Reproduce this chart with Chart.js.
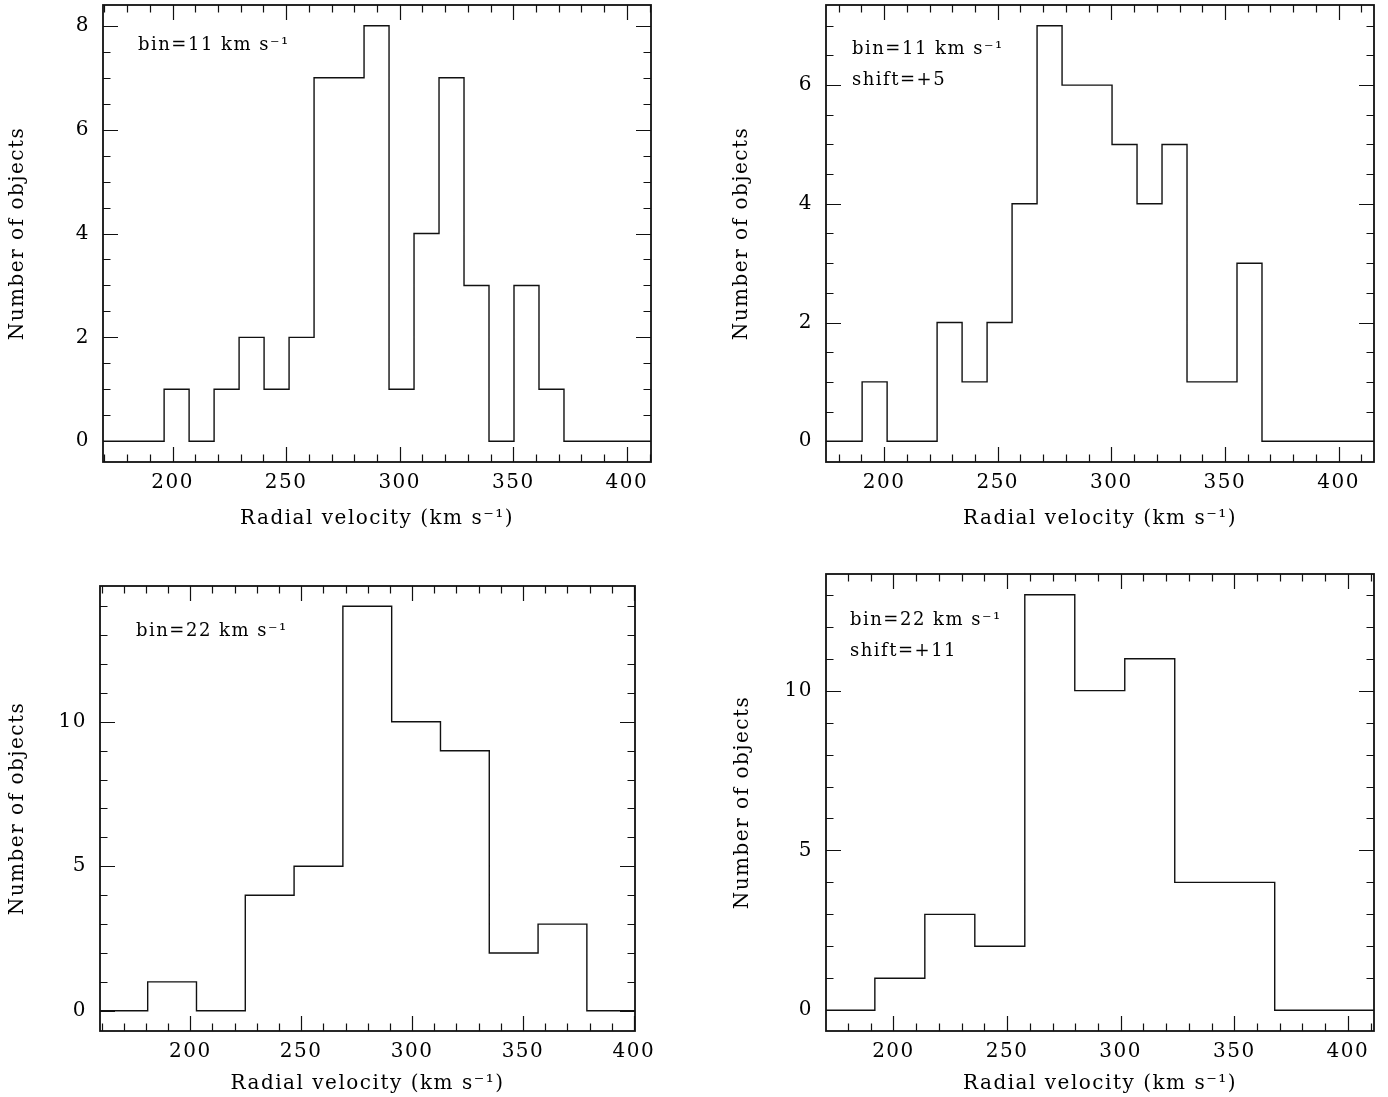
<!DOCTYPE html>
<html><head><meta charset="utf-8">
<script src="https://cdn.jsdelivr.net/npm/chart.js@4/dist/chart.umd.min.js"></script>
<style>
html,body{margin:0;padding:0;background:#fff;}
body{width:1388px;height:1097px;position:relative;overflow:hidden;}
canvas{position:absolute;display:block;}
</style></head><body>
<canvas id="c1" width="694" height="548" style="left:0;top:0"></canvas>
<canvas id="c2" width="694" height="548" style="left:694px;top:0"></canvas>
<canvas id="c3" width="694" height="549" style="left:0;top:548px"></canvas>
<canvas id="c4" width="694" height="549" style="left:694px;top:548px"></canvas>
<script>
// ---- data ----
const xTickValues = [200, 250, 300, 350, 400];
const xMinorStep = 10;
const xTitle = 'Radial velocity (km s⁻¹)';
const yTitle = 'Number of objects';

// Panel 1: bin = 11 km/s
const p1Edges  = [196.3, 207.3, 218.3, 229.3, 240.3, 251.3, 262.3, 273.3, 284.3, 295.3, 306.3, 317.3, 328.3, 339.3, 350.3, 361.3, 372.3];
const p1Counts = [1, 0, 1, 2, 1, 2, 7, 7, 8, 1, 4, 7, 3, 0, 3, 1];
const p1XRange = [169.4, 410.6];
const p1YRange = [-0.4, 8.4];
const p1YTicks = [0, 2, 4, 6, 8];
const p1YMinor = 0.5;
const p1Notes  = ['bin=11 km s⁻¹'];

// Panel 2: bin = 11 km/s, shift +5
const p2Edges  = [190.3, 201.3, 212.3, 223.3, 234.3, 245.3, 256.3, 267.3, 278.3, 289.3, 300.3, 311.3, 322.3, 333.3, 344.3, 355.3, 366.3];
const p2Counts = [1, 0, 0, 2, 1, 2, 4, 7, 6, 6, 5, 4, 5, 1, 1, 3];
const p2XRange = [174.4, 415.6];
const p2YRange = [-0.35, 7.35];
const p2YTicks = [0, 2, 4, 6];
const p2YMinor = 0.5;
const p2Notes  = ['bin=11 km s⁻¹', 'shift=+5'];

// Panel 3: bin = 22 km/s
const p3Edges  = [180.8, 202.8, 224.8, 246.8, 268.8, 290.8, 312.8, 334.8, 356.8, 378.8];
const p3Counts = [1, 0, 4, 5, 14, 10, 9, 2, 3];
const p3XRange = [159.3, 400.5];
const p3YRange = [-0.7, 14.7];
const p3YTicks = [0, 5, 10];
const p3YMinor = 1;
const p3Notes  = ['bin=22 km s⁻¹'];

// Panel 4: bin = 22 km/s, shift +11
const p4Edges  = [191.8, 213.8, 235.8, 257.8, 279.8, 301.8, 323.8, 345.8, 367.8];
const p4Counts = [1, 3, 2, 13, 10, 11, 4, 4];
const p4XRange = [170.3, 411.5];
const p4YRange = [-0.65, 13.65];
const p4YTicks = [0, 5, 10];
const p4YMinor = 1;
const p4Notes  = ['bin=22 km s⁻¹', 'shift=+11'];

// ---- drawing ----
const FONT = 'DejaVu Serif';
const INK = '#111';

const framePlugin = {
  id: 'frame',
  beforeDraw(chart) { chart.ctx.letterSpacing = '1.5px'; },
  afterDraw(chart, args, o) {
    const {ctx, chartArea: a} = chart;
    const x = chart.scales.x, y = chart.scales.y;
    ctx.save();
    ctx.strokeStyle = INK;
    ctx.lineWidth = 1.2;
    ctx.beginPath();
    const eps = 1e-6;
    for (let v = Math.ceil(x.min / xMinorStep) * xMinorStep; v <= x.max + eps; v += xMinorStep) {
      const px = Math.round(x.getPixelForValue(v)) + 0.5;
      const major = xTickValues.some(t => Math.abs(t - v) < eps);
      const len = major ? 15 : 7.5;
      ctx.moveTo(px, a.bottom); ctx.lineTo(px, a.bottom - len);
      ctx.moveTo(px, a.top); ctx.lineTo(px, a.top + len);
    }
    const st = o.yMinor;
    for (let k = Math.ceil(y.min / st - eps); k * st <= y.max + eps; k++) {
      const v = k * st;
      const py = Math.round(y.getPixelForValue(v)) + 0.5;
      const major = o.yTicks.some(t => Math.abs(t - v) < eps);
      const len = major ? 15 : 7.5;
      ctx.moveTo(a.left, py); ctx.lineTo(a.left + len, py);
      ctx.moveTo(a.right, py); ctx.lineTo(a.right - len, py);
    }
    ctx.stroke();
    ctx.lineWidth = 1.8;
    ctx.strokeRect(a.left, a.top, a.right - a.left, a.bottom - a.top);
    ctx.fillStyle = '#000';
    ctx.font = '18px "' + FONT + '"';
    ctx.textBaseline = 'middle';
    ctx.textAlign = 'left';
    o.notes.forEach((t, i) => ctx.fillText(t, a.left + o.noteX, a.top + o.noteY + i * 31));
    ctx.restore();
  }
};

function histPoints(edges, counts, xr) {
  const pts = [{x: xr[0], y: 0}];
  counts.forEach((c, i) => pts.push({x: edges[i], y: c}));
  pts.push({x: edges[edges.length - 1], y: 0});
  pts.push({x: xr[1], y: 0});
  return pts;
}

function makePanel(id, edges, counts, xr, yr, yTicks, yMinor, notes, L) {
  const cv = document.getElementById(id);
  const W = cv.width, H = cv.height;
  new Chart(cv, {
    type: 'line',
    data: { datasets: [{
      data: histPoints(edges, counts, xr),
      stepped: 'before', borderColor: INK, borderWidth: 1.4,
      pointRadius: 0, fill: false, tension: 0
    }]},
    options: {
      responsive: false, animation: false, devicePixelRatio: 1,
      layout: { padding: { top: L.top, right: W - L.right, bottom: 0, left: 0 } },
      plugins: {
        legend: { display: false }, tooltip: { enabled: false },
        frame: { yTicks: yTicks, yMinor: yMinor, notes: notes, noteX: L.noteX, noteY: L.noteY }
      },
      scales: {
        x: {
          type: 'linear', position: 'bottom', min: xr[0], max: xr[1],
          grid: { display: false, drawTicks: false }, border: { display: false },
          ticks: { padding: 9, color: '#000', font: { family: FONT, size: 20 }, maxRotation: 0, autoSkip: false },
          afterBuildTicks: s => { s.ticks = xTickValues.map(v => ({ value: v })); },
          afterFit: s => { s.height = H - L.bottom; s.paddingLeft = 0; s.paddingRight = 0; },
          title: { display: true, text: xTitle, color: '#000', font: { family: FONT, size: 20 },
                   padding: { top: 0, bottom: L.xtPad } }
        },
        y: {
          type: 'linear', position: 'left', min: yr[0], max: yr[1],
          grid: { display: false, drawTicks: false }, border: { display: false },
          ticks: { padding: 13, color: '#000', font: { family: FONT, size: 20 }, autoSkip: false },
          afterBuildTicks: s => { s.ticks = yTicks.map(v => ({ value: v })); },
          afterFit: s => { s.width = L.left; s.paddingTop = 0; s.paddingBottom = 0; },
          title: { display: true, text: yTitle, color: '#000', font: { family: FONT, size: 20 },
                   padding: { top: L.ytPad, bottom: 0 } }
        }
      }
    },
    plugins: [framePlugin]
  });
}

makePanel('c1', p1Edges, p1Counts, p1XRange, p1YRange, p1YTicks, p1YMinor, p1Notes,
  { left: 103, right: 651, top: 5, bottom: 462, xtPad: 17, ytPad: 6, noteX: 35, noteY: 40 });
makePanel('c2', p2Edges, p2Counts, p2XRange, p2YRange, p2YTicks, p2YMinor, p2Notes,
  { left: 132, right: 680, top: 5, bottom: 462, xtPad: 17, ytPad: 36, noteX: 26, noteY: 44 });
makePanel('c3', p3Edges, p3Counts, p3XRange, p3YRange, p3YTicks, p3YMinor, p3Notes,
  { left: 100, right: 635, top: 38, bottom: 483, xtPad: 1, ytPad: 6, noteX: 36, noteY: 45 });
makePanel('c4', p4Edges, p4Counts, p4XRange, p4YRange, p4YTicks, p4YMinor, p4Notes,
  { left: 132, right: 680, top: 26, bottom: 483, xtPad: 1, ytPad: 37, noteX: 24, noteY: 46 });
</script>
</body></html>
